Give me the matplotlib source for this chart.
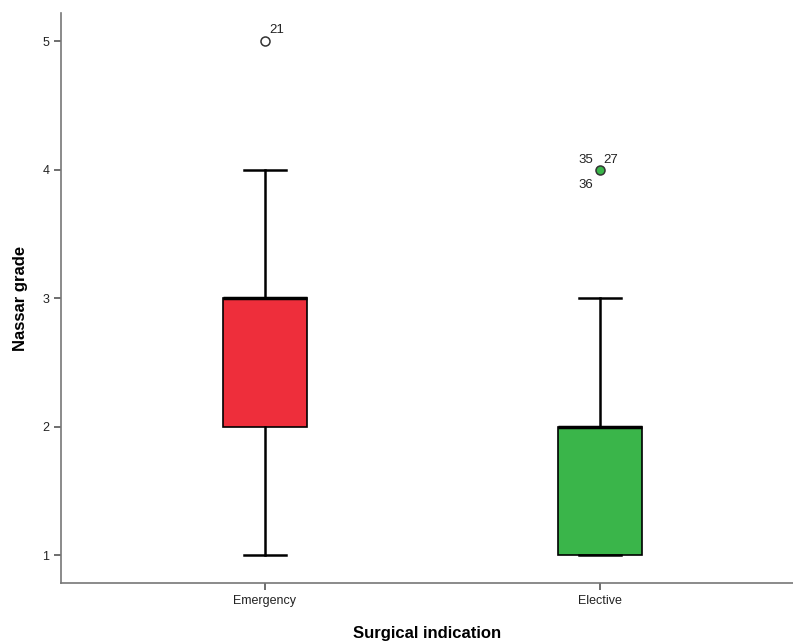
import numpy as np
import matplotlib
matplotlib.use("Agg")
import matplotlib.pyplot as plt

# Box statistics
categories = ["Emergency", "Elective"]
whisker_low = [1, 1]
q1 = [2, 1]
median = [3, 2]
q3 = [3, 2]
whisker_high = [4, 3]
outliers = [[5], [4]]
outlier_labels = [["21"], ["35", "27", "36"]]
box_colors = ["#EE2E3B", "#3AB54A"]
flier_faces = ["white", "#3AB54A"]

plt.rcParams['font.family'] = ['Liberation Sans', 'DejaVu Sans']

fig = plt.figure(figsize=(7.93, 6.43), dpi=100)
ax = fig.add_axes([61 / 793, 60 / 643, 1 - 61 / 793, (583 - 13) / 643])

stats = []
for i, cat in enumerate(categories):
    stats.append(dict(label=cat, whislo=whisker_low[i], q1=q1[i], med=median[i],
                      q3=q3[i], whishi=whisker_high[i], fliers=[]))

positions = np.arange(len(categories))
bp = ax.bxp(stats, positions=positions, widths=0.25, patch_artist=True,
            showfliers=False,
            boxprops=dict(linewidth=1.2, edgecolor="black"),
            medianprops=dict(color="black", linewidth=2.5),
            whiskerprops=dict(color="black", linewidth=1.8),
            capprops=dict(color="black", linewidth=1.8),
            capwidths=0.126)
for patch, c in zip(bp["boxes"], box_colors):
    patch.set_facecolor(c)

# outliers with case labels
for i, pos in enumerate(positions):
    for v in outliers[i]:
        ax.plot(pos, v, "o", ms=6.5, mfc=flier_faces[i], mec="#333333", mew=1.1, zorder=5)
    labs = outlier_labels[i]
    if len(labs) == 1:
        ax.annotate(labs[0], (pos, outliers[i][0]), xytext=(3, 6),
                    textcoords="offset points", fontsize=9.5, color="#222222")
    else:
        ax.annotate(labs[0], (pos, outliers[i][0]), xytext=(-16, 5),
                    textcoords="offset points", fontsize=9.5, color="#222222")
        ax.annotate(labs[1], (pos, outliers[i][0]), xytext=(2, 5),
                    textcoords="offset points", fontsize=9.5, color="#222222")
        ax.annotate(labs[2], (pos, outliers[i][0]), xytext=(-16, -13),
                    textcoords="offset points", fontsize=9.5, color="#222222")

ax.set_xlim(-0.608, 1.575)
ax.set_ylim(0.782, 5.22)
ax.set_yticks([1, 2, 3, 4, 5])
ax.set_xticks(positions)
ax.set_xticklabels(categories)

for side in ["top", "right"]:
    ax.spines[side].set_visible(False)
for side in ["left", "bottom"]:
    ax.spines[side].set_color("#777777")
    ax.spines[side].set_linewidth(1.2)
ax.tick_params(axis="both", colors="#555555", labelcolor="#222222", labelsize=9,
               length=5, width=1.2)

ax.set_ylabel("Nassar grade", fontsize=12, fontweight="bold", labelpad=10)
ax.set_xlabel("Surgical indication", fontsize=12, fontweight="bold", labelpad=14)

fig.savefig("out.png", dpi=100)
